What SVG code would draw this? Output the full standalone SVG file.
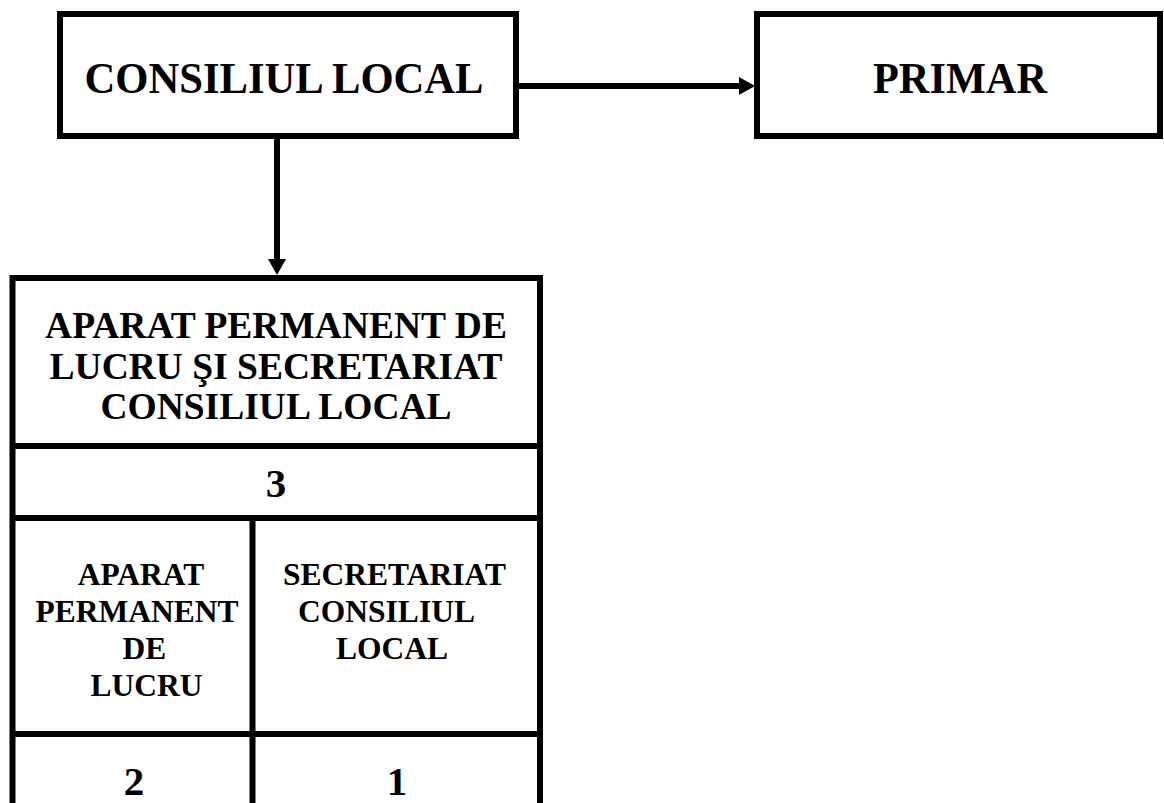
<svg xmlns="http://www.w3.org/2000/svg" width="1164" height="803" viewBox="0 0 1164 803">
  <style>
    .box { fill: #ffffff; stroke: #000000; stroke-width: 6; }
    .rule { stroke: #000000; stroke-width: 6; fill: none; }
    .conn { stroke: #000000; stroke-width: 6; fill: none; }
    text { font-family: "Liberation Serif", "Times New Roman", serif; font-weight: bold; fill: #000000; text-anchor: middle; }
    .t1 { font-size: 45px; }
    .t2 { font-size: 37.5px; }
    .t3 { font-size: 31.5px; }
    .num { font-size: 41px; }
  </style>
  <defs>
    <marker id="arrow" viewBox="0 0 16 18" refX="0" refY="9" markerWidth="16" markerHeight="18" markerUnits="userSpaceOnUse" orient="auto">
      <path d="M0,0 L16,9 L0,18 Z" fill="#000000"/>
    </marker>
  </defs>
  <rect width="1164" height="803" fill="#ffffff"/>

  <g id="connectors">
    <line class="conn" x1="519" y1="86" x2="739" y2="86" marker-end="url(#arrow)"/>
    <line class="conn" x1="277" y1="139" x2="277" y2="259" marker-end="url(#arrow)"/>
  </g>

  <g id="consiliul-local">
    <rect class="box" x="60" y="14" width="456" height="122"/>
    <text class="t1" x="284" y="93" textLength="399" lengthAdjust="spacingAndGlyphs">CONSILIUL LOCAL</text>
  </g>

  <g id="primar">
    <rect class="box" x="757" y="14" width="403" height="122"/>
    <text class="t1" x="960" y="93" textLength="174" lengthAdjust="spacingAndGlyphs">PRIMAR</text>
  </g>

  <g id="aparat-secretariat">
    <rect class="box" x="12.5" y="278" width="527.5" height="560"/>
    <line class="rule" x1="12.5" y1="446" x2="540" y2="446"/>
    <line class="rule" x1="12.5" y1="518" x2="540" y2="518"/>
    <line class="rule" x1="12.5" y1="734" x2="540" y2="734"/>
    <line class="rule" x1="252.5" y1="518" x2="252.5" y2="840"/>
    <text class="t2" x="276" y="338">APARAT PERMANENT DE</text>
    <text class="t2" x="276" y="379">LUCRU ŞI SECRETARIAT</text>
    <text class="t2" x="276" y="419">CONSILIUL LOCAL</text>
    <text class="num" x="276" y="497">3</text>
  </g>

  <g id="aparat-permanent">
    <text class="t3" x="141" y="585">APARAT</text>
    <text class="t3" x="137" y="622">PERMANENT</text>
    <text class="t3" x="144.5" y="659">DE</text>
    <text class="t3" x="146.5" y="696">LUCRU</text>
    <text class="num" x="134" y="795">2</text>
  </g>

  <g id="secretariat">
    <text class="t3" x="394.5" y="585">SECRETARIAT</text>
    <text class="t3" x="386.5" y="622">CONSILIUL</text>
    <text class="t3" x="392" y="659">LOCAL</text>
    <text class="num" x="397" y="795">1</text>
  </g>
</svg>
